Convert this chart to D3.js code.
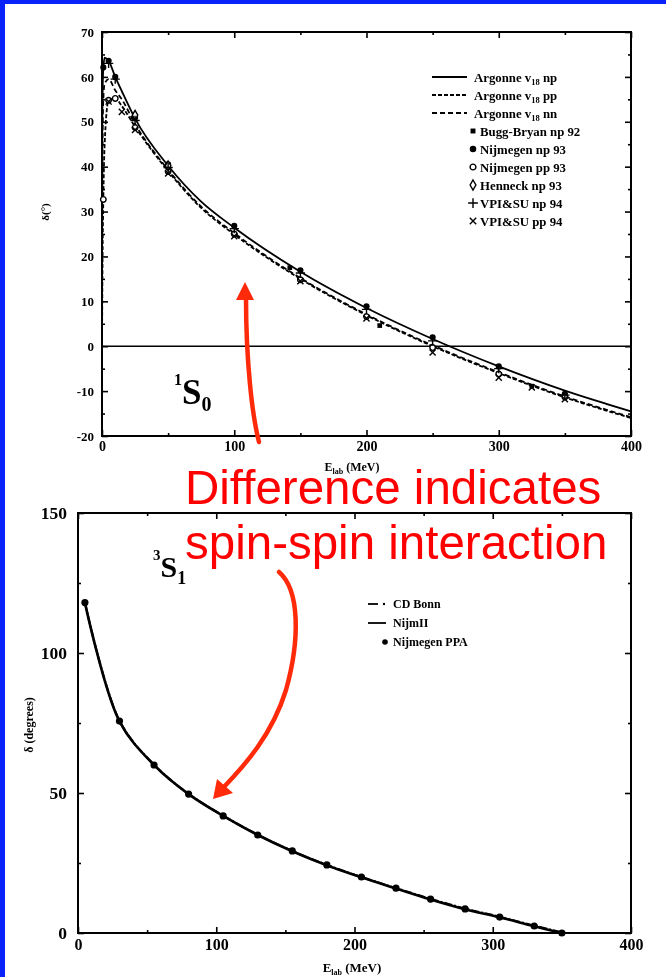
<!DOCTYPE html>
<html>
<head>
<meta charset="utf-8">
<script src="https://cdn.jsdelivr.net/npm/d3@7"></script>
<style>
  html, body { margin: 0; padding: 0; background: #fff; }
  svg { display: block; }
</style>
</head>
<body>
<svg id="chart" width="666" height="977"></svg>
<script>
// ---------- top panel: 1S0 phase shifts ----------
const curveE    = [0, 0.2, 0.5, 1, 2, 5, 10, 15, 25, 50, 75, 100, 150, 200, 250, 300, 350, 400];
const argonneNp = [0, 48, 57, 62.1, 64.3, 63.6, 60.0, 56.8, 50.7, 40.2, 32.2, 26.4, 16.6, 8.5, 1.6, -4.5, -9.9, -14.5];
const argonnePp = [0, 10, 22, 32.7, 45, 54.8, 55.2, 53.5, 48.9, 39.0, 30.8, 24.9, 15.0, 6.9, 0.0, -6.0, -11.4, -16.0];
const argonneNn = [0, 35, 48, 55, 58.5, 59.5, 57.0, 55.0, 49.5, 39.3, 31.1, 25.2, 15.2, 7.1, 0.2, -5.8, -11.2, -15.8];

const buggE = [142, 210, 325];
const buggV = [17.5, 4.6, -8.9];
const nijNpE = [1, 5, 10, 25, 50, 100, 150, 200, 250, 300, 350];
const nijNpV = [62.1, 63.6, 60.0, 50.9, 40.5, 26.8, 16.9, 8.9, 2.0, -4.5, -10.6];
const nijPpE = [1, 5, 10, 25, 50, 100, 150, 200, 250, 300, 350];
const nijPpV = [32.7, 54.8, 55.2, 48.7, 38.9, 25.0, 14.8, 6.6, -0.3, -6.2, -11.3];
const henneckE = [25, 50];
const henneckV = [51.5, 40.2];
const vpiNpE = [5, 10, 25, 50, 100, 150, 200, 250, 300, 350];
const vpiNpV = [63.0, 59.5, 50.3, 39.8, 26.2, 16.3, 8.2, 1.2, -5.0, -10.9];
const vpiPpE = [5, 15, 25, 50, 100, 150, 200, 250, 300, 325, 350];
const vpiPpV = [54.5, 52.2, 48.2, 38.5, 24.5, 14.5, 6.2, -1.4, -7.0, -9.2, -11.8];

const topXTicks = [0, 100, 200, 300, 400];
const topXMinor = [50, 150, 250, 350];
const topYTicks = [-20, -10, 0, 10, 20, 30, 40, 50, 60, 70];
const topYMinor = [-15, -5, 5, 15, 25, 35, 45, 55, 65];

// ---------- bottom panel: 3S1 phase shifts ----------
const ppaE   = [5, 30, 55, 80, 105, 130, 155, 180, 205, 230, 255, 280, 305, 330, 350];
const ppaV   = [118, 75.7, 60.0, 49.6, 41.8, 35.0, 29.3, 24.3, 20.0, 16.0, 12.1, 8.6, 5.7, 2.5, 0];
const bonnV  = [118, 75.8, 60.1, 49.7, 41.9, 35.1, 29.3, 24.3, 20.0, 16.0, 12.2, 8.7, 5.8, 2.6, 0.2];
const nijm2V = [118, 75.6, 60.0, 49.6, 41.8, 35.0, 29.2, 24.2, 19.9, 15.9, 12.0, 8.5, 5.6, 2.4, 0];

const botXTicks = [0, 100, 200, 300, 400];
const botXMinor = [50, 150, 250, 350];
const botYTicks = [0, 50, 100, 150];
const botYMinor = [25, 75, 125];

const serif = '"Liberation Serif", "Times New Roman", serif';
const sans = '"Liberation Sans", Arial, sans-serif';

const svg = d3.select('#chart');
svg.append('rect').attr('width', 666).attr('height', 977).attr('fill', '#fff');

// blue slide edge (top and left)
svg.append('rect').attr('x', 0).attr('y', 0).attr('width', 666).attr('height', 4).attr('fill', '#0a22fa');
svg.append('rect').attr('x', 0).attr('y', 0).attr('width', 5).attr('height', 977).attr('fill', '#0a22fa');

// slight softening like a scanned figure
const defs = svg.append('defs');
defs.append('filter').attr('id', 'scan')
  .append('feGaussianBlur').attr('stdDeviation', 0.35);

function addAxis(g, gen, scale, values, size, transform, labels, fontSize, pad) {
  const a = gen(scale).tickValues(values).tickSize(-size).tickSizeOuter(0).tickPadding(pad || 6);
  a.tickFormat(labels ? (d => String(d)) : '');
  const sel = g.append('g').attr('transform', transform).call(a);
  sel.select('.domain').remove();
  sel.selectAll('line').attr('stroke', '#000').attr('stroke-width', 1.6);
  sel.selectAll('text')
    .attr('font-family', serif).attr('font-weight', 'bold')
    .attr('font-size', fontSize).attr('fill', '#000');
  return sel;
}

function drawFrame(g, x, y, xMaj, xMin, yMaj, yMin, fsX, fsY, padX, padY) {
  const [x0, x1] = x.range();
  const [yb, yt] = y.range();
  addAxis(g, d3.axisBottom, x, xMaj, 6, `translate(0,${yb})`, true, fsX, padX);
  addAxis(g, d3.axisBottom, x, xMin, 3, `translate(0,${yb})`, false, fsX);
  addAxis(g, d3.axisTop, x, xMaj, 6, `translate(0,${yt})`, false, fsX);
  addAxis(g, d3.axisTop, x, xMin, 3, `translate(0,${yt})`, false, fsX);
  addAxis(g, d3.axisLeft, y, yMaj, 6, `translate(${x0},0)`, true, fsY, padY);
  addAxis(g, d3.axisLeft, y, yMin, 3, `translate(${x0},0)`, false, fsY);
  addAxis(g, d3.axisRight, y, yMaj, 6, `translate(${x1},0)`, false, fsY);
  addAxis(g, d3.axisRight, y, yMin, 3, `translate(${x1},0)`, false, fsY);
  g.append('rect')
    .attr('x', x0).attr('y', yt).attr('width', x1 - x0).attr('height', yb - yt)
    .attr('fill', 'none').attr('stroke', '#000').attr('stroke-width', 2);
}

function zip(xs, ys) { return xs.map((d, i) => [d, ys[i]]); }

// ================= top panel =================
const xT = d3.scaleLinear().domain([0, 400]).range([102, 631]);
const yT = d3.scaleLinear().domain([-20, 70]).range([436, 32]);
const gT = svg.append('g').attr('filter', 'url(#scan)');

drawFrame(gT, xT, yT, topXTicks, topXMinor, topYTicks, topYMinor, 14, 13, 5, 8);

// zero line
gT.append('line')
  .attr('x1', xT(0)).attr('x2', xT(400)).attr('y1', yT(0)).attr('y2', yT(0))
  .attr('stroke', '#000').attr('stroke-width', 1.5);

const lineT = d3.line().x(d => xT(d[0])).y(d => yT(d[1])).curve(d3.curveMonotoneX);
gT.append('path').datum(zip(curveE, argonneNp)).attr('d', lineT)
  .attr('fill', 'none').attr('stroke', '#000').attr('stroke-width', 1.8);
gT.append('path').datum(zip(curveE, argonnePp)).attr('d', lineT)
  .attr('fill', 'none').attr('stroke', '#000').attr('stroke-width', 1.8).attr('stroke-dasharray', '4,2');
gT.append('path').datum(zip(curveE, argonneNn)).attr('d', lineT)
  .attr('fill', 'none').attr('stroke', '#000').attr('stroke-width', 1.8).attr('stroke-dasharray', '5,3');

const topSets = [
  { e: buggE, v: buggV, type: d3.symbolSquare, size: 22, fill: '#000', stroke: 'none' },
  { e: nijNpE, v: nijNpV, type: d3.symbolCircle, size: 30, fill: '#000', stroke: 'none' },
  { e: nijPpE, v: nijPpV, type: d3.symbolCircle, size: 24, fill: '#fff', stroke: '#000' },
  { e: henneckE, v: henneckV, type: d3.symbolDiamond, size: 26, fill: '#fff', stroke: '#000' },
  { e: vpiNpE, v: vpiNpV, type: d3.symbolPlus, size: 30, fill: 'none', stroke: '#000' },
  { e: vpiPpE, v: vpiPpV, type: d3.symbolTimes, size: 26, fill: 'none', stroke: '#000' }
];
topSets.forEach(s => {
  gT.append('g').selectAll('path')
    .data(zip(s.e, s.v))
    .join('path')
    .attr('transform', d => `translate(${xT(d[0])},${yT(d[1])})`)
    .attr('d', d3.symbol().type(s.type).size(s.size))
    .attr('fill', s.fill).attr('stroke', s.stroke).attr('stroke-width', 1.4);
});

// legend (top)
const legTop = [
  { name: 'np', kind: 'line', dash: null },
  { name: 'pp', kind: 'line', dash: '4,2' },
  { name: 'nn', kind: 'line', dash: '5,3' },
  { name: 'Bugg-Bryan np 92', kind: 'sym', set: 0 },
  { name: 'Nijmegen np 93', kind: 'sym', set: 1 },
  { name: 'Nijmegen pp 93', kind: 'sym', set: 2 },
  { name: 'Henneck np 93', kind: 'sym', set: 3 },
  { name: 'VPI&SU np 94', kind: 'sym', set: 4 },
  { name: 'VPI&SU pp 94', kind: 'sym', set: 5 }
];
const legFs = 12.8;
legTop.forEach((d, i) => {
  const yy = 77 + i * 18;
  if (d.kind === 'line') {
    gT.append('line').attr('x1', 432).attr('x2', 467).attr('y1', yy).attr('y2', yy)
      .attr('stroke', '#000').attr('stroke-width', 1.8).attr('stroke-dasharray', d.dash);
    const t = gT.append('text').attr('x', 474).attr('y', yy + 4.5)
      .attr('font-family', serif).attr('font-weight', 'bold').attr('font-size', legFs);
    t.append('tspan').text('Argonne v');
    t.append('tspan').attr('font-size', 8.5).attr('dy', 3).text('18');
    t.append('tspan').attr('dy', -3).text(' ' + d.name);
  } else {
    const s = topSets[d.set];
    gT.append('path').attr('transform', `translate(473,${yy})`)
      .attr('d', d3.symbol().type(s.type).size(s.size * 1.1))
      .attr('fill', s.fill).attr('stroke', s.stroke).attr('stroke-width', 1.4);
    gT.append('text').attr('x', 480).attr('y', yy + 4.5)
      .attr('font-family', serif).attr('font-weight', 'bold').attr('font-size', legFs)
      .text(d.name);
  }
});

// axis titles (top)
gT.append('text').attr('transform', 'translate(49,212) rotate(-90)')
  .attr('text-anchor', 'middle').attr('font-family', serif).attr('font-weight', 'bold')
  .attr('font-size', 11).text('δ(°)');
const xtT = gT.append('text').attr('x', 352).attr('y', 471).attr('text-anchor', 'middle')
  .attr('font-family', serif).attr('font-weight', 'bold').attr('font-size', 12);
xtT.append('tspan').text('E');
xtT.append('tspan').attr('font-size', 8).attr('dy', 3).text('lab');
xtT.append('tspan').attr('dy', -3).text(' (MeV)');

// 1S0 label
const s0 = gT.append('text').attr('x', 174).attr('y', 404)
  .attr('font-family', serif).attr('font-weight', 'bold').attr('font-size', 35);
s0.append('tspan').attr('font-size', 16).attr('dy', -19).text('1');
s0.append('tspan').attr('dy', 19).text('S');
s0.append('tspan').attr('font-size', 20).attr('dy', 7).text('0');

// ================= bottom panel =================
const xB = d3.scaleLinear().domain([0, 400]).range([78, 631]);
const yB = d3.scaleLinear().domain([0, 150]).range([933, 513]);
const gB = svg.append('g').attr('filter', 'url(#scan)');

drawFrame(gB, xB, yB, botXTicks, botXMinor, botYTicks, botYMinor, 16, 17.5, 6, 11);

const lineB = d3.line().x(d => xB(d[0])).y(d => yB(d[1])).curve(d3.curveCatmullRom.alpha(0.5));
gB.append('path').datum(zip(ppaE, nijm2V)).attr('d', lineB)
  .attr('fill', 'none').attr('stroke', '#000').attr('stroke-width', 2.6);
gB.append('path').datum(zip(ppaE, bonnV)).attr('d', lineB)
  .attr('fill', 'none').attr('stroke', '#000').attr('stroke-width', 2.2).attr('stroke-dasharray', '8,2,2,2');
gB.append('g').selectAll('circle')
  .data(zip(ppaE, ppaV))
  .join('circle')
  .attr('cx', d => xB(d[0])).attr('cy', d => yB(d[1])).attr('r', 3.6)
  .attr('fill', '#000');

// legend (bottom)
const legBot = ['CD Bonn', 'NijmII', 'Nijmegen PPA'];
legBot.forEach((name, i) => {
  const yy = 604 + i * 19;
  if (i === 0) {
    gB.append('line').attr('x1', 368).attr('x2', 378).attr('y1', yy).attr('y2', yy)
      .attr('stroke', '#000').attr('stroke-width', 1.8);
    gB.append('circle').attr('cx', 384).attr('cy', yy).attr('r', 1.2).attr('fill', '#000');
  } else if (i === 1) {
    gB.append('line').attr('x1', 368).attr('x2', 386).attr('y1', yy).attr('y2', yy)
      .attr('stroke', '#000').attr('stroke-width', 1.8);
  } else {
    gB.append('circle').attr('cx', 385).attr('cy', yy).attr('r', 2.8).attr('fill', '#000');
  }
  gB.append('text').attr('x', 393).attr('y', yy + 4)
    .attr('font-family', serif).attr('font-weight', 'bold').attr('font-size', 12)
    .text(name);
});

gB.append('text').attr('transform', 'translate(33,725) rotate(-90)')
  .attr('text-anchor', 'middle').attr('font-family', serif).attr('font-weight', 'bold')
  .attr('font-size', 12).text('δ (degrees)');
const xtB = gB.append('text').attr('x', 352).attr('y', 972).attr('text-anchor', 'middle')
  .attr('font-family', serif).attr('font-weight', 'bold').attr('font-size', 13);
xtB.append('tspan').text('E');
xtB.append('tspan').attr('font-size', 8).attr('dy', 3).text('lab');
xtB.append('tspan').attr('dy', -3).text(' (MeV)');

// 3S1 label
const s1 = gB.append('text').attr('x', 153).attr('y', 577)
  .attr('font-family', serif).attr('font-weight', 'bold').attr('font-size', 30);
s1.append('tspan').attr('font-size', 15).attr('dy', -17).text('3');
s1.append('tspan').attr('dy', 17).text('S');
s1.append('tspan').attr('font-size', 18).attr('dy', 7).text('1');

// ================= red annotation =================
const red = '#ff0000';
const arrowRed = '#ff2a0a';
svg.append('text').attr('x', 185).attr('y', 504)
  .attr('font-family', sans).attr('font-size', 47.5).attr('fill', red)
  .text('Difference indicates');
svg.append('text').attr('x', 185).attr('y', 559)
  .attr('font-family', sans).attr('font-size', 47.5).attr('fill', red)
  .text('spin-spin interaction');

// arrow up into the 1S0 panel
svg.append('path').attr('d', 'M259,442 C252,415 246,360 246,298')
  .attr('fill', 'none').attr('stroke', arrowRed).attr('stroke-width', 4.5).attr('stroke-linecap', 'round');
svg.append('path').attr('d', 'M245,282 L254,300 L236,300 Z').attr('fill', arrowRed);

// curved arrow down into the 3S1 panel
svg.append('path').attr('d', 'M279,572 C300,590 300,640 286,690 C272,735 245,765 223,788')
  .attr('fill', 'none').attr('stroke', arrowRed).attr('stroke-width', 4.5).attr('stroke-linecap', 'round');
svg.append('path').attr('d', 'M213,799 L217,779 L233,793 Z').attr('fill', arrowRed);
</script>
</body>
</html>
